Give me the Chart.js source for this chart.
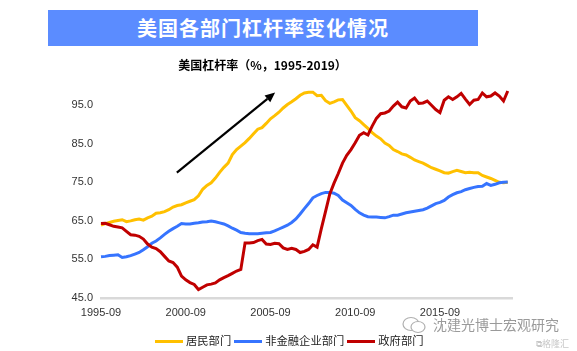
<!DOCTYPE html>
<html>
<head>
<meta charset="utf-8">
<script src="https://cdn.jsdelivr.net/npm/chart.js@4.4.0/dist/chart.umd.min.js"></script>
<style>
  html, body { margin: 0; padding: 0; background: #fff; }
  #wrap { position: relative; width: 577px; height: 351px; overflow: hidden; background: #fff; }
  #c { position: absolute; left: 0; top: 0; }
  #titlebar { position: absolute; left: 48px; top: 10px; width: 430px; height: 36px; background: #5B8CFF;
    color: #fff; font: bold 20px "Noto Sans CJK SC", sans-serif; text-align: center; line-height: 36px; letter-spacing: 1px; }
  #subtitle { position: absolute; left: 0; width: 525px; top: 56px; text-align: center;
    font: bold 12px "Noto Sans CJK SC", sans-serif; color: #000; }
  #legend { position: absolute; top: 332px; left: 155px; font: 11.3px "Noto Sans CJK SC", sans-serif; color: #222; white-space: nowrap; }
  .li { display: inline-block; margin-right: 3px; }
  .sw { display: inline-block; width: 28px; height: 3px; vertical-align: middle; margin-right: 3px; }
  #wm { position: absolute; left: 433px; top: 314px; font: 14px "Noto Sans CJK SC", sans-serif; color: #9a9a9a; }
  #gl { position: absolute; left: 536px; top: 337px; font: 9px "Noto Sans CJK SC", sans-serif; color: #c8c8c8; }
</style>
</head>
<body>
<div id="wrap">
  <canvas id="c" width="577" height="351"></canvas>
  <div id="titlebar">美国各部门杠杆率变化情况</div>
  <div id="subtitle">美国杠杆率（%，1995-2019）</div>
  <div id="legend"></div>
  <svg style="position:absolute;left:401px;top:316px" width="26" height="18" viewBox="0 0 26 18">
    <ellipse cx="10" cy="8" rx="8" ry="6.5" fill="none" stroke="#b0b0b0" stroke-width="1.2"/>
    <ellipse cx="17" cy="11" rx="7" ry="5.5" fill="#fff" stroke="#b0b0b0" stroke-width="1.2"/>
  </svg>
  <div id="wm">沈建光博士宏观研究</div>
  <div id="gl">⧉格隆汇</div>
</div>
<script>
// ---- data (quarterly, 1995-09 .. 2019-09) ----
const startYear = 1995;
const tickEvery = 20;
const yTicks = [45, 55, 65, 75, 85, 95];
const seriesNames = ["居民部门", "非金融企业部门", "政府部门"];
const seriesColors = ["#FFC000", "#3674FF", "#C00000"];

const household = [
  63.9,64.3,64.6,64.9,65.1,65.3,64.8,65.0,65.3,65.5,
  65.2,65.8,66.2,67.0,67.1,67.4,67.9,68.6,69.0,69.2,
  69.7,70.1,70.5,71.5,73.2,74.2,74.9,76.1,77.6,78.9,
  80.0,82.2,83.5,84.4,85.3,86.4,87.6,88.8,89.2,90.3,
  91.5,92.3,93.2,94.3,95.2,95.9,96.7,97.6,98.2,98.4,
  98.4,97.5,97.6,96.2,95.5,95.9,96.4,96.5,95.0,93.5,
  91.8,91.0,90.0,89.0,87.9,87.0,86.3,85.2,84.6,83.5,
  83.0,82.4,82.1,81.5,80.8,80.4,80.0,79.4,78.8,78.4,
  78.0,77.5,77.4,77.8,78.1,77.8,77.5,77.6,77.5,77.5,
  76.8,76.4,76.0,75.5,75.0,74.9,75.0
];
const corporate = [
  55.7,55.8,56.0,56.1,56.2,55.5,55.7,56.0,56.4,56.8,
  57.5,58.3,59.2,59.8,60.6,61.5,62.3,63.0,63.6,64.3,
  64.2,64.2,64.4,64.5,64.7,64.8,65.0,64.8,64.5,64.2,
  63.7,63.1,62.6,62.0,61.8,61.7,61.7,61.7,61.8,61.9,
  62.0,62.4,62.9,63.4,63.9,64.6,65.5,66.8,68.2,69.5,
  71.0,71.6,72.1,72.4,72.4,72.2,71.6,70.4,69.7,69.0,
  68.0,67.1,66.5,66.1,66.0,66.0,65.9,65.8,66.1,66.5,
  66.5,66.8,67.1,67.3,67.5,67.7,67.9,68.3,68.9,69.5,
  69.8,70.3,71.2,71.8,72.3,72.6,73.1,73.4,73.7,73.9,
  74.0,74.7,74.2,74.5,74.9,75.0,75.1
];
const government = [
  64.3,64.4,64.0,63.6,63.4,63.2,62.3,61.4,61.3,61.0,
  60.3,59.0,58.2,57.8,57.0,55.8,54.6,54.2,53.0,50.7,
  49.7,49.0,48.5,47.2,47.8,48.4,48.6,48.9,49.7,50.3,
  50.8,51.4,52.0,52.4,59.3,59.3,59.4,59.9,60.2,59.0,
  58.9,59.2,59.1,58.0,57.6,57.9,57.6,56.8,57.1,57.6,
  58.8,58.2,63.0,67.5,72.0,74.8,77.3,80.0,82.0,83.5,
  85.3,87.2,87.9,87.3,89.6,91.6,92.8,93.0,93.5,94.8,
  95.8,94.6,94.3,96.1,96.9,95.5,95.6,96.1,95.0,93.9,
  93.1,96.3,97.2,96.5,97.2,98.1,96.6,95.2,96.3,96.5,
  98.2,97.2,97.4,98.2,97.4,96.1,98.7
];
// arrow annotation in data coordinates: [categoryIndex, value]
const arrowFrom = [17.9, 77.5];
const arrowTo = [41.1, 98.3];

// category labels: quarter ends from 1995-09 to 2019-12
const months = ["03","06","09","12"];
const labels = [];
for (let q = 2; labels.length < 98; q++) {
  labels.push((startYear + Math.floor(q / 4)) + "-" + months[q % 4]);
}

// legend
const lg = document.getElementById('legend');
seriesNames.forEach((n, i) => {
  const s = document.createElement('span'); s.className = 'li';
  s.innerHTML = '<span class="sw" style="background:' + seriesColors[i] + '"></span>' + n;
  lg.appendChild(s);
});

const arrowPlugin = {
  id: 'arrow',
  afterDatasetsDraw(chart) {
    const {ctx, scales: {x, y}} = chart;
    const x1 = x.getPixelForValue(arrowFrom[0]), y1 = y.getPixelForValue(arrowFrom[1]);
    const x2 = x.getPixelForValue(arrowTo[0]), y2 = y.getPixelForValue(arrowTo[1]);
    const ang = Math.atan2(y2 - y1, x2 - x1);
    const hl = 10, hw = 4.5;
    ctx.save();
    ctx.strokeStyle = '#000'; ctx.fillStyle = '#000'; ctx.lineWidth = 2.2;
    ctx.beginPath(); ctx.moveTo(x1, y1);
    ctx.lineTo(x2 - hl * Math.cos(ang), y2 - hl * Math.sin(ang)); ctx.stroke();
    ctx.beginPath(); ctx.moveTo(x2, y2);
    ctx.lineTo(x2 - hl * Math.cos(ang) + hw * Math.sin(ang), y2 - hl * Math.sin(ang) - hw * Math.cos(ang));
    ctx.lineTo(x2 - hl * Math.cos(ang) - hw * Math.sin(ang), y2 - hl * Math.sin(ang) + hw * Math.cos(ang));
    ctx.closePath(); ctx.fill();
    ctx.restore();
  }
};

const mk = (data, i, order) => ({
  label: seriesNames[i], data, borderColor: seriesColors[i], backgroundColor: seriesColors[i],
  borderWidth: 3, pointRadius: 0, tension: 0, fill: false, order
});

new Chart(document.getElementById('c'), {
  type: 'line',
  data: { labels, datasets: [mk(household, 0, 2), mk(corporate, 1, 1), mk(government, 2, 0)] },
  options: {
    responsive: false, animation: false,
    layout: { padding: { left: 0, right: 65, top: 86, bottom: 0 } },
    plugins: { legend: { display: false }, title: { display: false }, tooltip: { enabled: false } },
    scales: {
      x: {
        type: 'category', offset: false,
        grid: { display: false, drawTicks: false },
        border: { display: true, color: '#d9d9d9', width: 2.5 },
        ticks: {
          autoSkip: false, maxRotation: 0, padding: 8, color: '#333',
          font: { family: 'Liberation Sans', size: 11 },
          callback: (v, i) => (i % tickEvery === 0 ? labels[i] : '')
        },
        afterFit: (s) => { s.height = 53; }
      },
      y: {
        min: 45, max: 100,
        grid: { display: false, drawTicks: false },
        border: { display: false },
        afterBuildTicks: (s) => { s.ticks = yTicks.map(v => ({ value: v })); },
        ticks: {
          padding: 8, color: '#333',
          font: { family: 'Liberation Sans', size: 11 },
          callback: (v) => Number(v).toFixed(1)
        },
        afterFit: (s) => { s.width = 101; }
      }
    }
  },
  plugins: [arrowPlugin]
});
</script>
</body>
</html>
